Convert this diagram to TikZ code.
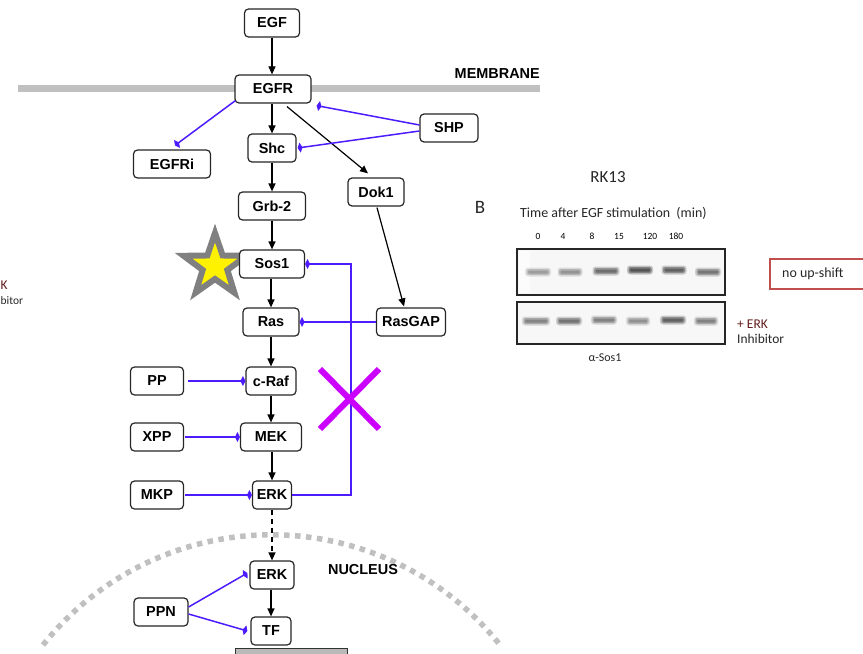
\documentclass[tikz,border=0pt]{standalone}
\usepackage{fontspec}
\setmainfont{Liberation Sans}
\newfontfamily\calibri{Carlito}
\usetikzlibrary{arrows.meta,shapes.geometric}
\definecolor{inhblue}{RGB}{76,28,255}
\definecolor{xmag}{RGB}{204,0,255}
\definecolor{memgray}{RGB}{192,192,192}
\definecolor{boxred}{RGB}{192,80,77}
\definecolor{erkred}{RGB}{100,30,30}
\newcommand\blotband[4]{%
  \fill[black,opacity=#4*0.22,rounded corners=3bp] ({#1-#2/2},{#3-4.5}) rectangle ({#1+#2/2},{#3+4.5});
  \fill[black,opacity=#4*0.35,rounded corners=2bp] ({#1-#2/2+1.5},{#3-3}) rectangle ({#1+#2/2-1.5},{#3+3});
  \fill[black,opacity=#4*0.35,rounded corners=1bp] ({#1-#2/2+3},{#3-1.5}) rectangle ({#1+#2/2-3},{#3+1.5});}
\begin{document}
\begin{tikzpicture}[x=1bp,y=-1bp,
  prot/.style={draw=black!85, line width=1.2bp, rounded corners=4bp, fill=white,
    minimum height=28bp, inner sep=0pt, font=\fontsize{14.5}{16}\selectfont\bfseries},
  act/.style={draw=black, line width=1.2bp, -{Triangle[length=8bp,width=7bp]}},
  inh/.style={draw=inhblue, line width=1.5bp, -{Diamond[length=5bp,width=10bp]}},
  lbl/.style={font=\fontsize{14.5}{16}\selectfont\bfseries, inner sep=0pt},
  rtxt/.style={font=\calibri, inner sep=0pt, text=black!85}]
\useasboundingbox (0,0) rectangle (863,654);
% membrane
\draw[memgray, line width=7bp] (18,89) -- (540,89);
\node[lbl, anchor=east] (memlbl) at (540,74) {MEMBRANE};
% nucleus envelope
\draw[memgray, line width=5.5bp, dash pattern=on 5.5bp off 5.5bp] (43,645) arc[start angle=218.5, end angle=321.5, radius=292];
\node[lbl] (nuclbl) at (363,570) {NUCLEUS};
% gray block at bottom
\draw[black!80, fill=gray!55, line width=1bp] (235,648) rectangle (347,660);
% star
\draw[fill=yellow, draw=gray, line width=6bp, line join=miter]
  (215,233) \foreach \a/\r in {126/13,162/33,198/13,234/33,270/13,306/33,342/13,18/33,54/13} { -- ({215+\r*cos(\a)},{266-\r*sin(\a)}) } -- cycle;
% nodes
\node[prot, minimum width=55bp] (egf) at (272,23) {EGF};
\node[prot, minimum width=76bp] (egfr) at (273,89) {EGFR};
\node[prot, minimum width=58bp] (shp) at (449,128) {SHP};
\node[prot, minimum width=48bp] (shc) at (272,148) {Shc};
\node[prot, minimum width=77bp] (egfri) at (172,164) {EGFRi};
\node[prot, minimum width=56bp] (dok1) at (376,192) {Dok1};
\node[prot, minimum width=67bp] (grb2) at (272,206) {Grb-2};
\node[prot, minimum width=65bp] (sos1) at (272,264) {Sos1};
\node[prot, minimum width=56bp] (ras) at (271,322) {Ras};
\node[prot, minimum width=69bp] (rasgap) at (411,322) {RasGAP};
\node[prot, minimum width=50bp] (craf) at (271,381) {c-Raf};
\node[prot, minimum width=53bp] (pp) at (157,381) {PP};
\node[prot, minimum width=61bp] (mek) at (271,437) {MEK};
\node[prot, minimum width=53bp] (xpp) at (157,437) {XPP};
\node[prot, minimum width=39bp] (erk) at (272,495) {ERK};
\node[prot, minimum width=53bp] (mkp) at (157,495) {MKP};
\node[prot, minimum width=44bp] (erkn) at (272,575) {ERK};
\node[prot, minimum width=54bp] (ppn) at (161,612) {PPN};
\node[prot, minimum width=40bp] (tf) at (271,631) {TF};
% activation arrows (vertical)
\draw[act] (egf.south) -- (egf.south |- egfr.north);
\draw[act] (shc.north |- egfr.south) -- (shc.north);
\draw[act] (shc.south) -- (shc.south |- grb2.north);
\draw[act] (grb2.south) -- (grb2.south |- sos1.north);
\draw[act] (ras.north |- sos1.south) -- (ras.north);
\draw[act] (ras.south) -- (ras.south |- craf.north);
\draw[act] (craf.south) -- (craf.south |- mek.north);
\draw[act] (erk.north |- mek.south) -- (erk.north);
\draw[act, dash pattern=on 5bp off 4bp] (erk.south) -- (erk.south |- erkn.north);
\draw[act] (tf.north |- erkn.south) -- (tf.north);
\draw[act] ([xshift=14bp,yshift=-3bp]egfr.south) -- ([xshift=-8bp,yshift=4bp]dok1.north);
\draw[act] ([xshift=1bp,yshift=-1bp]dok1.south) -- ([xshift=-7bp,yshift=1bp]rasgap.north);
% inhibitory / blue links
\draw[inh] ([xshift=1bp,yshift=3bp]egfr.south west) -- ([xshift=3bp,yshift=4bp]egfri.north);
\draw[inh] ([yshift=3bp]shp.west) -- ([xshift=5bp,yshift=-2bp]egfr.south east);
\draw[inh] ([yshift=-3bp]shp.west) -- ([xshift=1bp]shc.east);
\coordinate (fbtop) at (351,264);
\draw[inh] (erk.east) -| (fbtop) -- (sos1.east);
\draw[inh] (rasgap) -- (ras);
\draw[inh, shorten <=4bp] (pp) -- (craf);
\draw[inh, shorten <=1bp] (xpp) -- (mek);
\draw[inh, shorten <=1bp] (mkp) -- (erk);
\draw[inh] ([yshift=5bp]ppn.east) -- ([xshift=-2bp,yshift=2bp]erkn.west);
\draw[inh] ([yshift=-2bp]ppn.east) -- ([xshift=-3bp]tf.west);
% magenta cross
\coordinate (xa) at (320,369);
\coordinate (xb) at (379,429);
\coordinate (xc) at (379,369);
\coordinate (xd) at (320,429);
\draw[xmag, line width=6bp] (xa) -- (xb) (xc) -- (xd);
% right panel
\node[rtxt, font=\calibri\fontsize{17}{19}\selectfont] (rk) at (608,177) {RK13};
\node[rtxt, font=\calibri\fontsize{19}{21}\selectfont] (bl) at (480,207) {B};
\node[rtxt, font=\calibri\fontsize{14}{16}\selectfont, anchor=west] (time) at (520,213) {Time after EGF stimulation\ \ (min)};
\foreach \x/\t in {538/0,563/4,592/8,619/15,650/120,676/180}
  \node[rtxt, font=\calibri\fontsize{9.5}{11}\selectfont, text=black] (lane\t) at (\x,236) {\t};
\draw[black!85, fill=gray!6, line width=1.3bp] (517,249) rectangle (725,295);
\draw[black!85, fill=gray!6, line width=1.3bp] (517,302) rectangle (725,344);
\fill[white, opacity=0.7] (519,251) rectangle (530,293);
\blotband{538}{26}{272}{0.45}
\blotband{570}{25}{272}{0.5}
\blotband{606}{27}{271}{0.75}
\blotband{640}{26}{270}{0.95}
\blotband{674}{25}{270}{0.85}
\blotband{708}{26}{272}{0.7}
\blotband{536}{28}{321}{0.6}
\blotband{569}{26}{321}{0.72}
\blotband{604}{26}{320}{0.62}
\blotband{638}{24}{321}{0.52}
\blotband{673}{26}{320}{0.85}
\blotband{706}{24}{321}{0.62}
\draw[boxred, line width=2.5bp] (770,259) rectangle (866,289);
\node[rtxt, font=\calibri\fontsize{14}{16}\selectfont, anchor=west] (noup) at (782,274) {no up-shift};
\node[rtxt, font=\calibri\fontsize{13.5}{15}\selectfont, anchor=west, text=erkred] (erkinh1) at (737,324) {+ ERK};
\node[rtxt, font=\calibri\fontsize{13.5}{15}\selectfont, anchor=west] (erkinh2) at (737,339) {Inhibitor};
\node[rtxt, font=\calibri\fontsize{12}{14}\selectfont] (asos) at (605,358) {α-Sos1};
% partial copy at left edge
\node[rtxt, font=\calibri\fontsize{13.5}{15}\selectfont, anchor=west, text=erkred] (lk) at (0.5,285) {K};
\node[rtxt, font=\calibri\fontsize{11.5}{13}\selectfont, anchor=west] (lb) at (0.5,301) {bitor};
\end{tikzpicture}
\end{document}
